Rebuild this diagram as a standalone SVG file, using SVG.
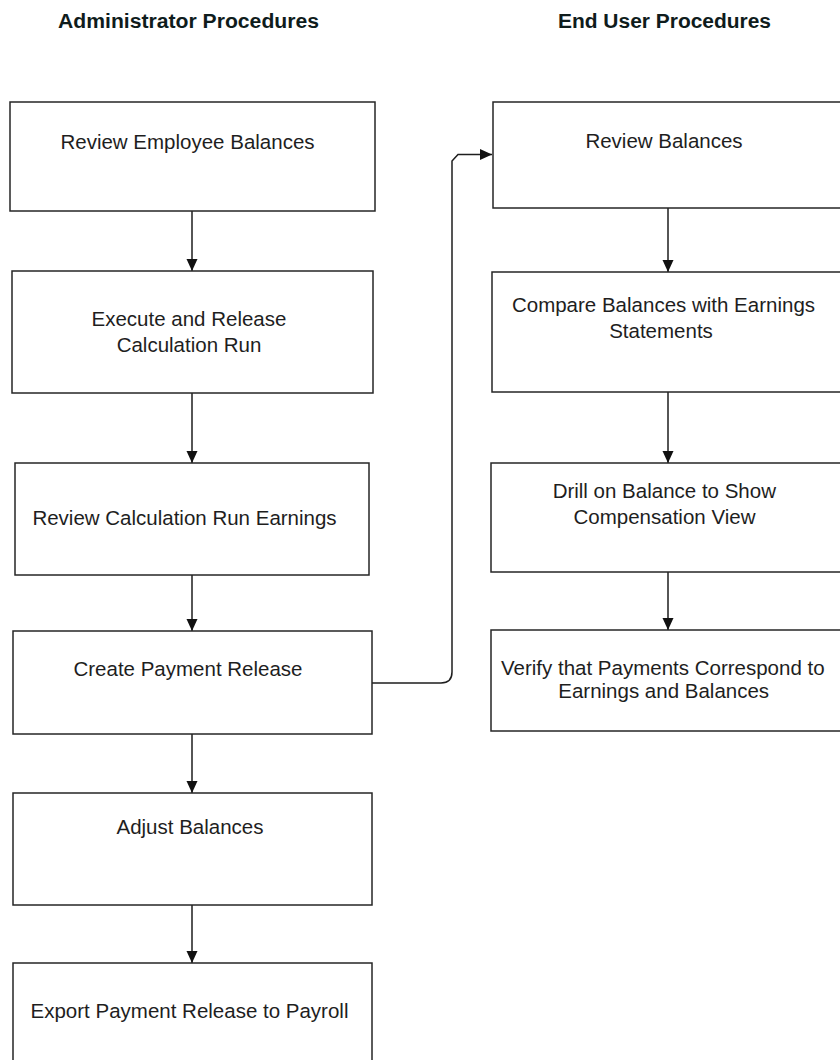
<svg xmlns="http://www.w3.org/2000/svg" width="840" height="1060" viewBox="0 0 840 1060">
  <style>
    .box { fill: #ffffff; stroke: #262626; stroke-width: 1.5; }
    .lbl { font-family: "Liberation Sans", Arial, sans-serif; font-size: 20.5px; fill: #1e1e1e; text-anchor: middle; }
    .head { font-family: "Liberation Sans", Arial, sans-serif; font-size: 19.5px; font-weight: bold; fill: #0f1c1c; text-anchor: middle; }
    .wire { fill: none; stroke: #1e1e1e; stroke-width: 1.5; }
  </style>
  <defs>
    <marker id="arrow" viewBox="0 0 12 12" refX="12" refY="6" markerWidth="12" markerHeight="12" markerUnits="userSpaceOnUse" orient="auto">
      <path d="M0,0.5 L12,6 L0,11.5 Z" fill="#111111"/>
    </marker>
  </defs>

  <rect width="840" height="1060" fill="#ffffff"/>

  <!-- Column headings -->
  <g id="headings">
    <text class="head" x="188.5" y="27.5" textLength="261" lengthAdjust="spacingAndGlyphs">Administrator Procedures</text>
    <text class="head" x="664.5" y="27.5" textLength="213" lengthAdjust="spacingAndGlyphs">End User Procedures</text>
  </g>

  <!-- Connectors -->
  <g id="connectors">
    <line class="wire" x1="192" y1="211" x2="192" y2="271" marker-end="url(#arrow)"/>
    <line class="wire" x1="192" y1="393" x2="192" y2="463" marker-end="url(#arrow)"/>
    <line class="wire" x1="192" y1="575" x2="192" y2="631" marker-end="url(#arrow)"/>
    <line class="wire" x1="192" y1="734" x2="192" y2="793" marker-end="url(#arrow)"/>
    <line class="wire" x1="192" y1="905" x2="192" y2="963" marker-end="url(#arrow)"/>
    <line class="wire" x1="668" y1="208" x2="668" y2="272" marker-end="url(#arrow)"/>
    <line class="wire" x1="668" y1="392" x2="668" y2="463" marker-end="url(#arrow)"/>
    <line class="wire" x1="668" y1="572" x2="668" y2="630" marker-end="url(#arrow)"/>
    <path class="wire" d="M372,683 L441,683 Q452,683 452,672 L452,161 L458,154.5 L492,154.5" marker-end="url(#arrow)"/>
  </g>

  <!-- Administrator steps -->
  <g id="review-employee-balances">
    <rect class="box" x="10" y="102" width="365" height="109"/>
    <text class="lbl" x="187.5" y="149">Review Employee Balances</text>
  </g>
  <g id="execute-release-run">
    <rect class="box" x="12" y="271" width="361" height="122"/>
    <text class="lbl" x="189" y="326">Execute and Release</text>
    <text class="lbl" x="189" y="352">Calculation Run</text>
  </g>
  <g id="review-run-earnings">
    <rect class="box" x="15" y="463" width="354" height="112"/>
    <text class="lbl" x="184.5" y="525">Review Calculation Run Earnings</text>
  </g>
  <g id="create-payment-release">
    <rect class="box" x="13" y="631" width="359" height="103"/>
    <text class="lbl" x="188" y="676">Create Payment Release</text>
  </g>
  <g id="adjust-balances">
    <rect class="box" x="13" y="793" width="359" height="112"/>
    <text class="lbl" x="190" y="834">Adjust Balances</text>
  </g>
  <g id="export-payment-release">
    <rect class="box" x="13" y="963" width="359" height="110"/>
    <text class="lbl" x="189.5" y="1018">Export Payment Release to Payroll</text>
  </g>

  <!-- End user steps -->
  <g id="review-balances">
    <rect class="box" x="493" y="102" width="360" height="106"/>
    <text class="lbl" x="664" y="148">Review Balances</text>
  </g>
  <g id="compare-balances">
    <rect class="box" x="492" y="272" width="360" height="120"/>
    <text class="lbl" x="663.5" y="312">Compare Balances with Earnings</text>
    <text class="lbl" x="661" y="338">Statements</text>
  </g>
  <g id="drill-on-balance">
    <rect class="box" x="491" y="463" width="360" height="109"/>
    <text class="lbl" x="664.3" y="498">Drill on Balance to Show</text>
    <text class="lbl" x="664.5" y="523.5">Compensation View</text>
  </g>
  <g id="verify-payments">
    <rect class="box" x="491" y="630" width="360" height="101"/>
    <text class="lbl" x="662.8" y="674.5">Verify that Payments Correspond to</text>
    <text class="lbl" x="663.7" y="698">Earnings and Balances</text>
  </g>
</svg>
